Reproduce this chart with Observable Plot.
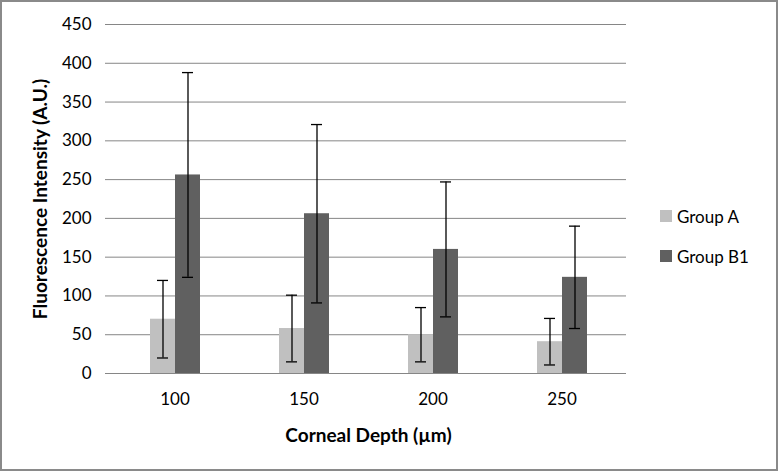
<!DOCTYPE html>
<html>
<head>
<meta charset="utf-8">
<script src="https://cdn.jsdelivr.net/npm/d3@7"></script>
<script src="https://cdn.jsdelivr.net/npm/@observablehq/plot@0.6"></script>
<style>
  html, body { margin: 0; padding: 0; background: #fff; }
  #wrap { position: relative; width: 778px; height: 471px; overflow: hidden; background: #fff; }
  #frame { position: absolute; left: 0; top: 0; width: 778px; height: 471px; box-sizing: border-box; border: 2px solid #8a8a8a; pointer-events: none; }
  #legend { position: absolute; left: 636px; top: 204px; font-family: Lato, "Open Sans", sans-serif; font-size: 17px; color: #000; }
  #legend .item { display: flex; align-items: center; height: 24px; margin-bottom: 16px; }
  #legend .sw { width: 12px; height: 12px; margin-left: 24px; margin-right: 5px; }
  svg g[aria-label="fx-axis label"] text, svg g[aria-label="y-axis label"] text { font-weight: bold; font-size: 19px; }
</style>
</head>
<body>
<div id="wrap"><div id="chart"></div><div id="legend"></div><div id="frame"></div></div>
<script>
const depths = ["100", "150", "200", "250"];
const groups = ["Group A", "Group B1"];
const groupAMean = [70, 58, 50, 41];
const groupAErr = [50, 43, 35, 30];
const groupB1Mean = [256, 206, 160, 124];
const groupB1Err = [132, 115, 87, 66];
const yTicks = [0, 50, 100, 150, 200, 250, 300, 350, 400, 450];
const colors = ["#c0c0c0", "#606060"];

const data = [];
depths.forEach((d, i) => {
  data.push({depth: d, group: groups[0], value: groupAMean[i], lo: groupAMean[i] - groupAErr[i], hi: groupAMean[i] + groupAErr[i]});
  data.push({depth: d, group: groups[1], value: groupB1Mean[i], lo: groupB1Mean[i] - groupB1Err[i], hi: groupB1Mean[i] + groupB1Err[i]});
});

const gray = "#868686";
const chart = Plot.plot({
  width: 778,
  height: 471,
  marginLeft: 109,
  marginRight: 151,
  marginTop: 24,
  marginBottom: 98,
  style: {fontFamily: "Lato, 'Open Sans', sans-serif", fontSize: "17px", color: "#000", background: "#fff"},
  fx: {domain: depths, padding: 0},
  x: {domain: groups, paddingInner: 0, paddingOuter: 1.49, align: 0.5},
  y: {domain: [0, 450]},
  color: {domain: groups, range: colors},
  marks: [
    Plot.gridY(yTicks, {stroke: gray, strokeOpacity: 1, strokeWidth: 1}),
    Plot.ruleY([0], {stroke: gray, strokeWidth: 1}),
    Plot.barY(data, {fx: "depth", x: "group", y: "value", fill: "group"}),
    Plot.ruleX(data, {fx: "depth", x: "group", y1: "lo", y2: "hi", stroke: "#000", strokeWidth: 1.3}),
    Plot.tickY(data, {fx: "depth", x: "group", y: "lo", stroke: "#000", strokeWidth: 1.3, inset: 7}),
    Plot.tickY(data, {fx: "depth", x: "group", y: "hi", stroke: "#000", strokeWidth: 1.3, inset: 7}),
    Plot.axisX({ticks: [], label: null}),
    Plot.axisY({ticks: yTicks, tickSize: 5, tickPadding: 14, stroke: gray, fill: "#000", line: true,
      label: "Fluorescence Intensity (A.U.)", labelAnchor: "center", labelOffset: 77, labelArrow: "none"}),
    Plot.axisFx({anchor: "bottom", tickSize: 0, tickPadding: 19, label: "Corneal Depth (µm)", labelAnchor: "center", labelOffset: 68, labelArrow: "none"})
  ]
});
document.getElementById("chart").appendChild(chart);

const legend = document.getElementById("legend");
groups.forEach((g, i) => {
  const item = document.createElement("div");
  item.className = "item";
  const sw = document.createElement("span");
  sw.className = "sw";
  sw.style.background = colors[i];
  const t = document.createElement("span");
  t.textContent = g;
  item.appendChild(sw);
  item.appendChild(t);
  legend.appendChild(item);
});
</script>
</body>
</html>
